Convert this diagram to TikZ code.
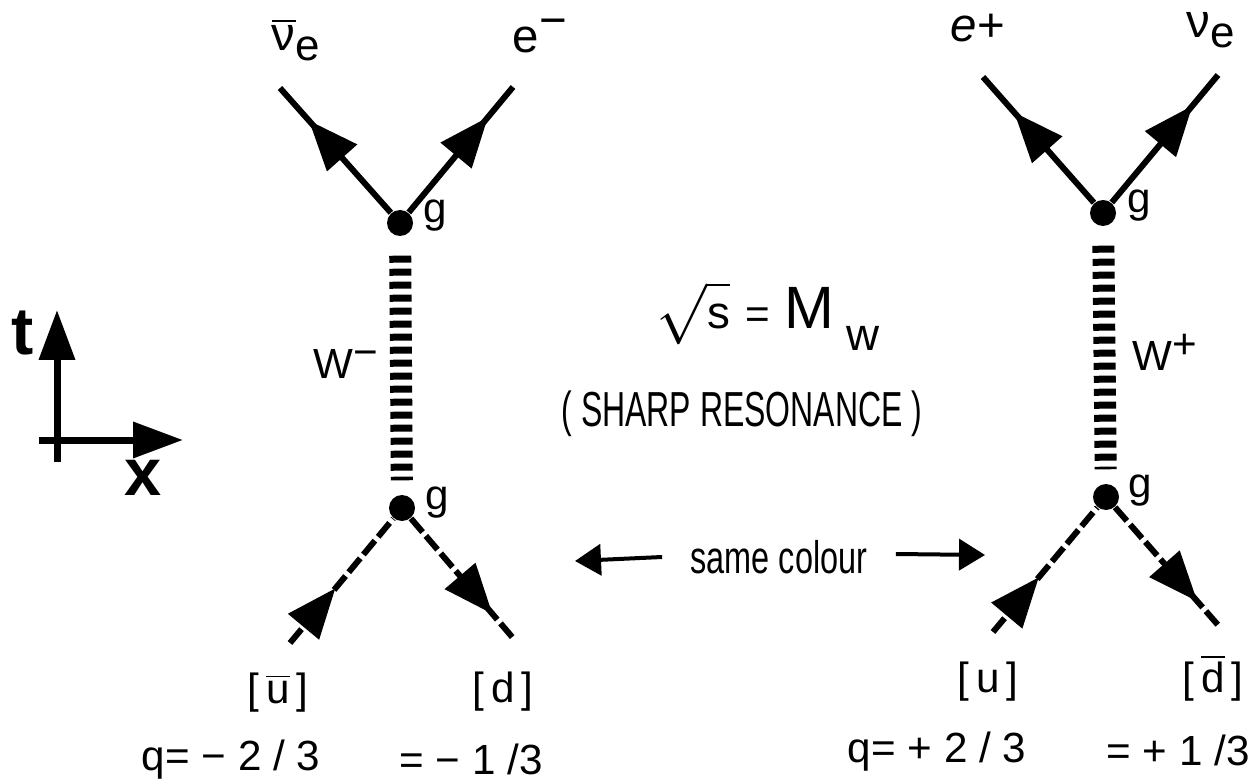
\documentclass[tikz,border=0pt]{standalone}
\usepackage{fontspec}
\setmainfont{Liberation Sans}
\usetikzlibrary{arrows.meta,decorations.markings}

\begin{document}
\begin{tikzpicture}[x=0.1mm, y=-0.1mm,
  fermion/.style={line width=0.6mm},
  quark/.style={line width=0.6mm, dash pattern=on 1.8mm off 0.5mm},
  boson/.style={line width=2.2mm, dash pattern=on 0.7mm off 0.6mm},
  vtx/.style={circle, fill, inner sep=0pt, minimum size=2.6mm},
  midarrow/.style={postaction={decorate}, decoration={markings,
      mark=at position #1 with {\arrow{Triangle[length=5mm, width=3.9mm]}}}},
  axis/.style={line width=0.7mm, -{Triangle[length=5mm, width=3.5mm]}},
  colarrow/.style={line width=0.4mm, -{Triangle[length=2.6mm, width=3.1mm]}},
  lbl/.style={font=\fontsize{12}{14}\selectfont, inner sep=0pt},
  big/.style={font=\fontsize{13.5}{16}\selectfont, inner sep=0pt}]

\useasboundingbox (0,0) rectangle (1255,782);

% Axes
\coordinate (tb) at (57,462);
\coordinate (ttip) at (57,310);
\coordinate (xl) at (39,440);
\coordinate (xtip) at (183,440);
\draw[axis] (tb) -- (ttip);
\draw[axis] (xl) -- (xtip);
\node[font=\fontsize{19}{21}\selectfont\bfseries, inner sep=0pt] (tlab) at (23,333) {t};
\node[font=\fontsize{19}{21}\selectfont\bfseries, inner sep=0pt] (xlab) at (143,478) {x};

% Left diagram: vertices
\node[vtx] (vtl) at (400,223) {};
\node[vtx] (vbl) at (402,508) {};
\node[lbl] (gtl) at (435,216) {g};
\node[lbl] (gbl) at (437,503) {g};

% Left diagram: outer ends
\coordinate (nubar) at (280,88);
\coordinate (elec) at (513,87);
\coordinate (ubar) at (290,643);
\coordinate (dq) at (513,638);

% Left diagram: lines
\draw[fermion, midarrow=0.74] (vtl) -- (nubar);
\draw[fermion, midarrow=0.76] (vtl) -- (elec);
\draw[boson, shorten <=1.9mm, shorten >=1.4mm] (vtl) -- (vbl);
\draw[quark, midarrow=0.44] (ubar) -- (vbl);
\draw[quark, midarrow=0.8] (vbl) -- (dq);

% Left diagram: labels
\node[big] (lnubar) at (296,40) {$\overline{\hbox{ν}}$\raisebox{-1mm}{\fontsize{12.5}{14}\selectfont e}};
\node[big] (lelec) at (540,36) {e\raisebox{1.6mm}{−}};
\node[lbl] (lwm) at (346,364) {W\raisebox{1.2mm}{−}};
\node[lbl] (lubar) at (278,693) {[\,$\overline{\hbox{u}}$\,]};
\node[lbl] (ldq) at (503,692) {[\,d\,]};
\node[lbl] (lq1) at (231,760) {q= − 2 / 3};
\node[lbl] (lq2) at (471,759) {= − 1 /3};

% Right diagram: vertices
\node[vtx] (vtr) at (1103,213) {};
\node[vtx] (vbr) at (1106,497) {};
\node[lbl] (gtr) at (1139,206) {g};
\node[lbl] (gbr) at (1140,491) {g};

% Right diagram: outer ends
\coordinate (posi) at (983,77);
\coordinate (nue) at (1218,75);
\coordinate (uq) at (993,632);
\coordinate (dbar) at (1218,625);

% Right diagram: lines
\draw[fermion, midarrow=0.72] (vtr) -- (posi);
\draw[fermion, midarrow=0.76] (vtr) -- (nue);
\draw[boson, shorten <=1.9mm, shorten >=1.4mm] (vtr) -- (vbr);
\draw[quark, midarrow=0.44] (uq) -- (vbr);
\draw[quark, midarrow=0.8] (vbr) -- (dbar);

% Right diagram: labels
\node[big] (lposi) at (978,28) {\textit{e}+};
\node[big, anchor=west] (lnue) at (1186,30) {ν\raisebox{-1mm}{\fontsize{12.5}{14}\selectfont e}};
\node[lbl] (lwp) at (1165,352) {W\raisebox{1.2mm}{+}};
\node[lbl] (luq) at (988,682) {[\,u\,]};
\node[lbl] (ldbar) at (1213,678) {[\,$\overline{\hbox{d}}$\,]};
\node[lbl] (lq3) at (937,752) {q= + 2 / 3};
\node[lbl] (lq4) at (1178,750) {= + 1 /3};

% Middle text
\node[inner sep=0pt, font=\fontsize{17}{20}\selectfont] (mass) at (768,316)
  {$\sqrt{\hbox{\fontsize{13}{15}\selectfont s}}$\hspace{1.5mm}{\fontsize{12}{14}\selectfont =}\hspace{1.5mm}M\hspace{1.2mm}\raisebox{-2.2mm}{\fontsize{13}{15}\selectfont w}};
\node[inner sep=0pt, font=\fontsize{14}{16}\selectfont, xscale=0.65] (reso) at (742,414) {( SHARP RESONANCE )};
\node[inner sep=0pt, font=\fontsize{13}{15}\selectfont, xscale=0.71] (same) at (779,557) {same colour};

% Same colour arrows
\coordinate (cl) at (575,561);
\coordinate (cr) at (985,555);
\draw[colarrow] ([xshift=-2.8mm]same.west) -- (cl);
\draw[colarrow] ([xshift=2.8mm, yshift=0.3mm]same.east) -- (cr);

\end{tikzpicture}
\end{document}
